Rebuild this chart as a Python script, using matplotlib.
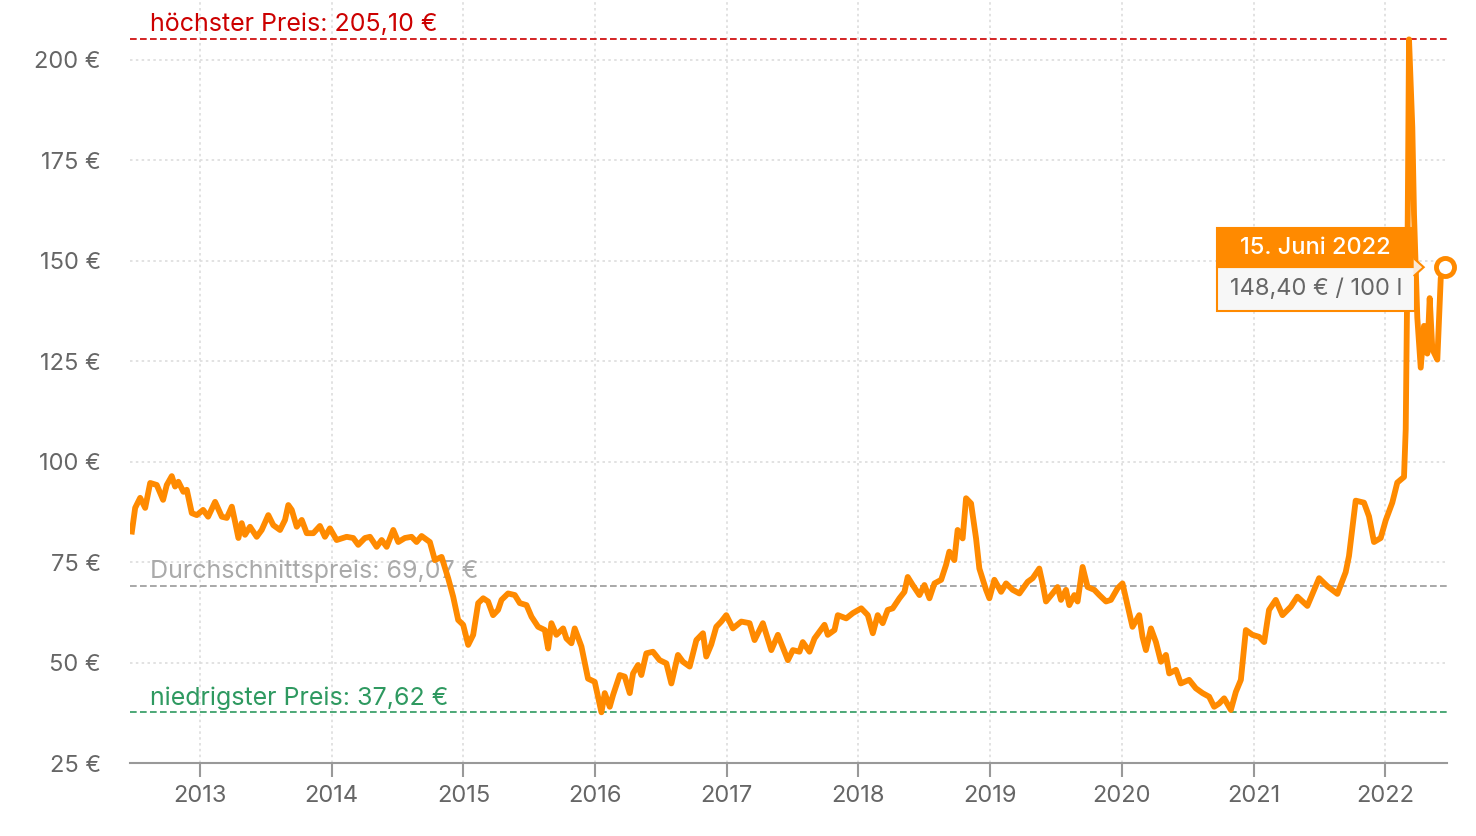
import matplotlib.pyplot as plt
import matplotlib.transforms as mtransforms
from matplotlib.patches import Rectangle, Polygon

plt.rcParams['font.family'] = ['Inter', 'DejaVu Sans']

# Heizölpreis in € / 100 l, Zeit als Dezimaljahr
years = [
    2012.482, 2012.507, 2012.545, 2012.583, 2012.621, 2012.671, 2012.719, 2012.747, 2012.785, 2012.810,
    2012.835, 2012.873, 2012.899, 2012.937, 2012.975, 2013.023, 2013.061, 2013.114, 2013.165, 2013.203,
    2013.241, 2013.266, 2013.291, 2013.316, 2013.341, 2013.379, 2013.430, 2013.468, 2013.518, 2013.556,
    2013.607, 2013.645, 2013.670, 2013.696, 2013.734, 2013.772, 2013.810, 2013.860, 2013.910, 2013.948,
    2013.986, 2014.037, 2014.113, 2014.163, 2014.201, 2014.252, 2014.290, 2014.341, 2014.379, 2014.417,
    2014.467, 2014.505, 2014.555, 2014.606, 2014.644, 2014.682, 2014.745, 2014.783, 2014.834, 2014.884,
    2014.922, 2014.960, 2014.998, 2015.036, 2015.074, 2015.112, 2015.150, 2015.187, 2015.225, 2015.263,
    2015.289, 2015.339, 2015.390, 2015.428, 2015.479, 2015.517, 2015.567, 2015.618, 2015.643, 2015.668,
    2015.706, 2015.757, 2015.782, 2015.820, 2015.845, 2015.896, 2015.946, 2015.997, 2016.048, 2016.073,
    2016.111, 2016.136, 2016.187, 2016.225, 2016.263, 2016.288, 2016.326, 2016.351, 2016.389, 2016.439,
    2016.490, 2016.541, 2016.579, 2016.629, 2016.667, 2016.718, 2016.769, 2016.819, 2016.844, 2016.882,
    2016.920, 2016.958, 2016.996, 2017.046, 2017.110, 2017.173, 2017.211, 2017.274, 2017.338, 2017.388,
    2017.464, 2017.502, 2017.552, 2017.577, 2017.628, 2017.666, 2017.742, 2017.767, 2017.818, 2017.843,
    2017.907, 2017.957, 2018.021, 2018.071, 2018.109, 2018.146, 2018.184, 2018.222, 2018.260, 2018.311,
    2018.349, 2018.374, 2018.412, 2018.463, 2018.501, 2018.539, 2018.577, 2018.628, 2018.665, 2018.690,
    2018.728, 2018.753, 2018.791, 2018.817, 2018.855, 2018.893, 2018.918, 2018.969, 2018.994, 2019.032,
    2019.083, 2019.121, 2019.171, 2019.222, 2019.285, 2019.323, 2019.373, 2019.398, 2019.424, 2019.474,
    2019.512, 2019.538, 2019.576, 2019.601, 2019.639, 2019.664, 2019.702, 2019.740, 2019.791, 2019.829,
    2019.880, 2019.917, 2019.968, 2020.005, 2020.043, 2020.081, 2020.132, 2020.157, 2020.183, 2020.221,
    2020.259, 2020.297, 2020.335, 2020.360, 2020.411, 2020.448, 2020.511, 2020.562, 2020.613, 2020.663,
    2020.701, 2020.739, 2020.777, 2020.828, 2020.866, 2020.904, 2020.942, 2020.992, 2021.043, 2021.081,
    2021.118, 2021.169, 2021.220, 2021.283, 2021.333, 2021.409, 2021.498, 2021.561, 2021.637, 2021.700,
    2021.725, 2021.776, 2021.839, 2021.877, 2021.915, 2021.966, 2022.004, 2022.054, 2022.092, 2022.143,
    2022.156, 2022.168, 2022.181, 2022.206, 2022.219, 2022.244, 2022.270, 2022.295, 2022.320, 2022.338,
    2022.358, 2022.396, 2022.422, 2022.452,
]
prices = [
    82.6, 88.5, 91.0, 88.5, 94.7, 94.2, 90.5, 94.2, 96.4, 93.8,
    95.0, 92.5, 93.0, 87.2, 86.7, 88.0, 86.3, 90.0, 86.3, 86.0,
    88.8, 85.0, 81.0, 84.7, 81.8, 83.8, 81.3, 83.0, 86.7, 84.2,
    83.0, 85.5, 89.2, 88.0, 83.8, 85.5, 82.2, 82.2, 84.0, 81.3,
    83.4, 80.5, 81.3, 81.0, 79.3, 81.0, 81.3, 78.8, 80.5, 78.8,
    83.0, 80.0, 81.0, 81.3, 80.0, 81.5, 80.0, 75.5, 76.3, 71.0,
    66.4, 60.6, 59.4, 54.4, 56.9, 64.8, 66.0, 65.2, 61.8, 63.1,
    65.6, 67.2, 66.8, 64.8, 64.3, 61.4, 58.9, 58.1, 53.5, 59.8,
    56.9, 58.5, 56.0, 54.8, 58.5, 54.0, 46.0, 45.2, 37.62, 42.4,
    39.0, 41.9, 46.9, 46.5, 42.4, 47.3, 49.4, 46.9, 52.3, 52.7,
    50.6, 49.8, 44.8, 51.9, 50.2, 49.0, 55.6, 57.3, 51.5, 54.5,
    58.9, 60.2, 61.8, 58.5, 60.2, 59.8, 55.6, 59.8, 53.1, 56.9,
    50.6, 53.1, 52.7, 55.1, 52.7, 56.0, 59.4, 56.9, 58.1, 61.8,
    61.0, 62.3, 63.5, 61.8, 57.3, 61.8, 59.8, 63.1, 63.5, 66.0,
    67.6, 71.3, 69.3, 66.8, 69.3, 66.0, 69.7, 70.6, 74.3, 77.6,
    75.5, 83.0, 80.9, 90.9, 89.6, 80.9, 73.4, 68.1, 66.0, 70.6,
    67.6, 69.7, 68.1, 67.2, 70.1, 71.0, 73.4, 69.7, 65.2, 67.2,
    68.8, 65.6, 68.1, 64.3, 66.8, 65.2, 73.8, 68.8, 68.1, 66.8,
    65.2, 65.6, 68.5, 69.7, 64.3, 58.9, 61.8, 56.4, 53.1, 58.5,
    55.1, 50.2, 51.9, 47.3, 48.2, 44.8, 45.7, 43.6, 42.4, 41.5,
    39.0, 39.8, 41.1, 38.2, 42.7, 45.7, 58.1, 56.9, 56.4, 55.1,
    63.1, 65.6, 61.8, 63.9, 66.4, 64.1, 71.0, 69.0, 67.1, 72.5,
    76.5, 90.3, 89.8, 86.4, 80.0, 81.0, 85.4, 89.8, 94.8, 96.2,
    108.1, 145.7, 205.1, 183.2, 161.5, 135.8, 123.4, 133.8, 126.9, 140.7,
    128.0, 125.4, 145.7, 148.4,
]

max_price = 205.10
avg_price = 69.07
min_price = 37.62
y_ticks = [25, 50, 75, 100, 125, 150, 175, 200]
x_ticks = list(range(2013, 2023))
last_date_label = "15. Juni 2022"
last_price_label = "148,40 € / 100 l"

orange = "#ff8a00"
fig = plt.figure(figsize=(14.76, 8.36), dpi=100)
ax = fig.add_axes([0.0881, 0.0873, 0.8923, 0.9127])
ax.set_xlim(2012.468, 2022.47)
ax.set_ylim(25, 214.9)

# Gitter
ax.set_yticks(y_ticks)
ax.set_yticklabels([f"{v} €" for v in y_ticks])
ax.set_xticks(x_ticks)
ax.set_xticklabels([str(y) for y in x_ticks])
ax.grid(True, color="#dddddd", linestyle=(0, (1.5, 2)), linewidth=1.2)
ax.set_axisbelow(True)
for s in ["left", "right", "top"]:
    ax.spines[s].set_visible(False)
ax.spines["bottom"].set_color("#999999")
ax.spines["bottom"].set_linewidth(1.5)
ax.tick_params(axis="y", length=0, pad=21, labelsize=17, labelcolor="#666666")
ax.tick_params(axis="x", length=10, width=1.5, color="#999999", pad=6,
               labelsize=17, labelcolor="#666666")

# Referenzlinien
ax.axhline(max_price, color="#cc0000", lw=1.2, dashes=(4, 2), zorder=2)
ax.axhline(avg_price, color="#999999", lw=1.2, dashes=(4, 2), zorder=2)
ax.axhline(min_price, color="#2e9960", lw=1.2, dashes=(4, 2), zorder=2)
lx = 0.0152
ax.text(lx, max_price + 2.1, "höchster Preis: 205,10 €", color="#cc0000", fontsize=18,
        transform=ax.get_yaxis_transform(), va="baseline")
ax.text(lx, avg_price + 2.0, "Durchschnittspreis: 69,07 €", color="#aaaaaa", fontsize=18,
        transform=ax.get_yaxis_transform(), va="baseline")
ax.text(lx, min_price + 1.8, "niedrigster Preis: 37,62 €", color="#2e9960", fontsize=18,
        transform=ax.get_yaxis_transform(), va="baseline")

# Preislinie
ax.plot(years, prices, color=orange, lw=4.2, solid_joinstyle="round", zorder=4)
ax.plot(years[-1], prices[-1], "o", ms=13, mfc="white", mec=orange, mew=3.5, zorder=6,
        clip_on=False)

# Tooltip (in Pixeln relativ zum letzten Punkt)
px, py = ax.transData.transform((years[-1], prices[-1]))
ident = mtransforms.IdentityTransform()
ax.add_patch(Rectangle((px - 228, py - 44), 198, 44, transform=ident, clip_on=False,
                       facecolor="#f7f7f7", edgecolor=orange, lw=1.5, zorder=7))
ax.add_patch(Rectangle((px - 228, py), 198, 39, transform=ident, clip_on=False,
                       facecolor=orange, edgecolor=orange, lw=1.5, zorder=7))
ax.add_patch(Polygon([(px - 31, py + 9), (px - 21, py), (px - 31, py - 9)], closed=False,
                     transform=ident, clip_on=False, facecolor="#fbe9d6",
                     edgecolor=orange, lw=1.5, zorder=7))
ax.text(px - 129, py + 19, last_date_label, transform=ident, color="white", fontsize=17,
        fontweight="medium", ha="center", va="center", zorder=8)
ax.text(px - 129, py - 22, last_price_label, transform=ident, color="#666666", fontsize=17,
        ha="center", va="center", zorder=8)

fig.savefig("out.png", dpi=100)
